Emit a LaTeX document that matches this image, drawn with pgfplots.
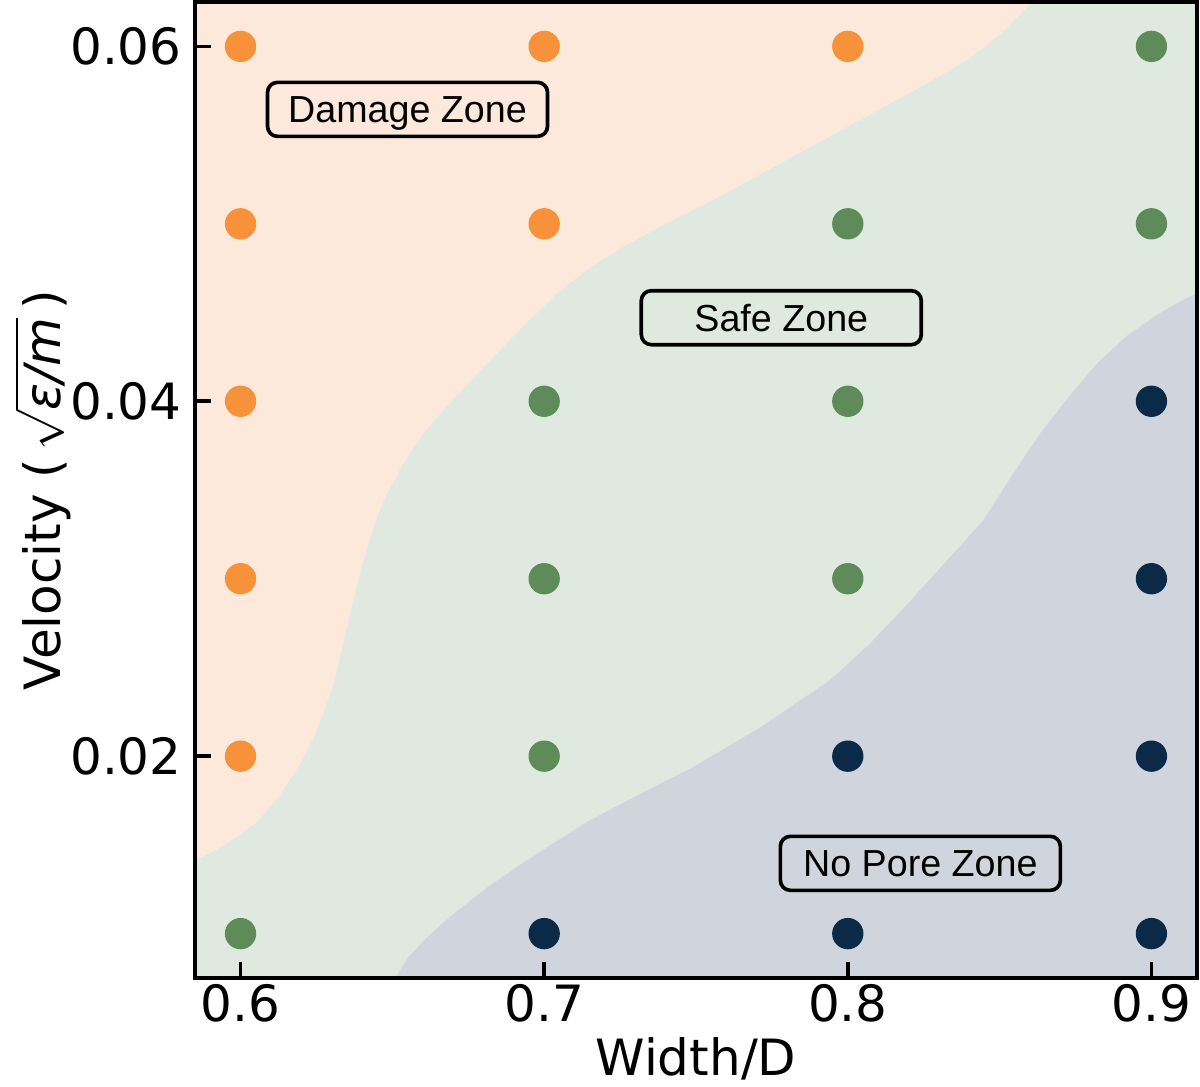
\documentclass[border=0pt]{standalone}
\usepackage{fontspec}
\usepackage{amsmath}
\setmainfont{DejaVu Sans}
\newfontfamily\boxfont{Liberation Sans}
\usepackage{pgfplots}
\pgfplotsset{compat=1.18}
\definecolor{dmgbg}{HTML}{FCE9DB}
\definecolor{safebg}{HTML}{DFE9DF}
\definecolor{porebg}{HTML}{D0D5DD}
\definecolor{dmgpt}{HTML}{F7923A}
\definecolor{safept}{HTML}{5E8C58}
\definecolor{porept}{HTML}{0B2A47}
\begin{document}
\begin{tikzpicture}
\begin{axis}[
  scale only axis,
  width=300.6pt, height=292.8pt,
  xmin=0.585, xmax=0.915, ymin=0.0075, ymax=0.0625,
  xtick={0.6,0.7,0.8,0.9}, xticklabels={0.6,0.7,0.8,0.9},
  ytick={0.02,0.04,0.06}, yticklabels={0.02,0.04,0.06},
  scaled ticks=false,
  /pgf/number format/assume math mode=true,
  tick align=inside, xtick pos=left, ytick pos=left,
  major tick length=4.8pt,
  every tick/.style={line width=1.1pt, black},
  axis line style={line width=1.2pt},
  tick label style={font=\fontsize{15}{15}\selectfont},
  xticklabel style={yshift=1.5pt},
  yticklabel style={xshift=-0.5pt},
  axis on top,
  xlabel={Width/D},
  ylabel={Velocity (\,$\sqrt{\smash[b]{\textit{ε/m}}}$\,)},
  label style={font=\fontsize{15}{15}\selectfont, inner sep=0pt},
  xlabel style={at={(axis description cs:0.5,-0.1000)}, anchor=base},
  ylabel style={at={(axis description cs:-0.1340,0.5)}, anchor=base},
]
% damage zone background (full area)
\addplot[draw=none, fill=dmgbg] coordinates {
  (0.585,0.0075) (0.915,0.0075) (0.915,0.0625) (0.585,0.0625)
} -- cycle;
% safe zone: below damage boundary
\addplot[draw=none, fill=safebg] coordinates {
  (0.5850,0.0141) (0.5950,0.0150) (0.6056,0.0163) (0.6130,0.0178)
  (0.6198,0.0196) (0.6240,0.0210) (0.6273,0.0224) (0.6300,0.0237)
  (0.6319,0.0249) (0.6340,0.0265) (0.6362,0.0281) (0.6390,0.0300)
  (0.6418,0.0318) (0.6445,0.0332) (0.6471,0.0344) (0.6530,0.0363)
  (0.6603,0.0382) (0.6710,0.0403) (0.6823,0.0423) (0.6935,0.0443)
  (0.7044,0.0461) (0.7150,0.0475) (0.7261,0.0487) (0.7400,0.0500)
  (0.7564,0.0514) (0.7810,0.0537) (0.8068,0.0561) (0.8260,0.0579)
  (0.8400,0.0593) (0.8510,0.0608) (0.8608,0.0625)
  (0.915,0.0625) (0.915,0.0075) (0.585,0.0075)
} -- cycle;
% no pore zone: below second boundary
\addplot[draw=none, fill=porebg] coordinates {
  (0.6510,0.0075) (0.6550,0.0086) (0.6603,0.0096) (0.6660,0.0105)
  (0.6715,0.0113) (0.6820,0.0127) (0.6932,0.0140) (0.7040,0.0152)
  (0.7152,0.0164) (0.7320,0.0179) (0.7482,0.0193) (0.7710,0.0216)
  (0.7943,0.0243) (0.8070,0.0263) (0.8193,0.0285) (0.8320,0.0309)
  (0.8447,0.0333) (0.8540,0.0358) (0.8634,0.0382) (0.8730,0.0403)
  (0.8825,0.0422) (0.8920,0.0437) (0.9013,0.0448) (0.9080,0.0455)
  (0.9150,0.0461) (0.915,0.0075)
} -- cycle;
% points
\addplot[only marks, mark=*, mark size=4.5pt, mark options={fill=dmgpt, draw=dmgpt}] coordinates {
  (0.6,0.06) (0.6,0.05) (0.6,0.04) (0.6,0.03) (0.6,0.02)
  (0.7,0.06) (0.7,0.05)
  (0.8,0.06)
};
\addplot[only marks, mark=*, mark size=4.5pt, mark options={fill=safept, draw=safept}] coordinates {
  (0.6,0.01)
  (0.7,0.04) (0.7,0.03) (0.7,0.02)
  (0.8,0.05) (0.8,0.04) (0.8,0.03)
  (0.9,0.06) (0.9,0.05)
};
\addplot[only marks, mark=*, mark size=4.5pt, mark options={fill=porept, draw=porept}] coordinates {
  (0.7,0.01)
  (0.8,0.02) (0.8,0.01)
  (0.9,0.04) (0.9,0.03) (0.9,0.02) (0.9,0.01)
};
\tikzset{zonebox/.style={draw=black, line width=1.1pt, rounded corners=3pt,
  minimum width=84pt, minimum height=16.2pt, inner sep=0pt,
  text height=8.1pt, text depth=0pt,
  font=\boxfont\fontsize{11.3}{12}\selectfont}}
\node[zonebox] at (axis cs:0.655,0.05645) {Damage Zone};
\node[zonebox] at (axis cs:0.7781,0.04471) {Safe Zone};
\node[zonebox] at (axis cs:0.8239,0.01396) {No Pore Zone};
\end{axis}
\pgfresetboundingbox
\useasboundingbox (-58.5pt,-32.7pt) rectangle (301.5pt,293.4pt);
\end{tikzpicture}
\end{document}
